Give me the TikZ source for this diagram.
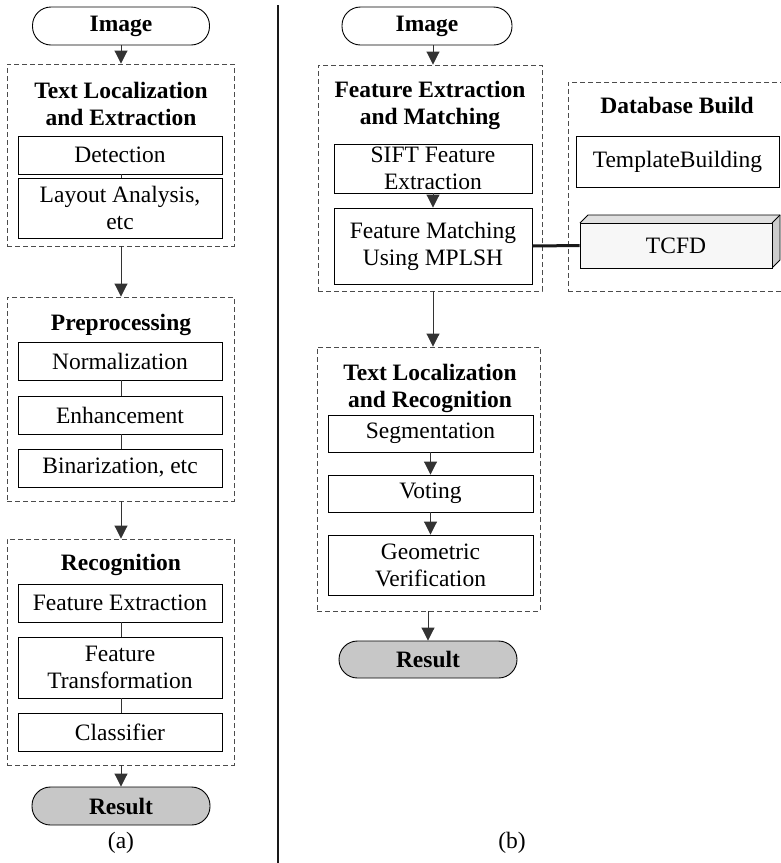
\documentclass[tikz,border=0pt]{standalone}
\usepackage{fontspec}
\setmainfont{Liberation Serif}
\usetikzlibrary{arrows.meta}
\begin{document}
\begin{tikzpicture}[x=1pt,y=-1pt,
  every node/.style={font=\fontsize{23.5}{27}\selectfont, inner sep=0pt},
  stepbox/.style={draw, line width=0.9pt, align=center},
  grp/.style={draw=black!70, line width=0.9pt, dash pattern=on 5pt off 3pt},
  term/.style={draw, line width=0.9pt, rounded corners=18.5pt, font=\fontsize{23.5}{27}\selectfont\bfseries},
  ttl/.style={align=center, font=\fontsize{23.5}{27}\selectfont\bfseries},
  arr/.style={draw=black!80, line width=0.9pt, -{Triangle[width=13pt,length=13pt]}},
  lnk/.style={draw=black!80, line width=0.9pt}
]
\useasboundingbox (0,0) rectangle (781,863);
% separator
\draw[line width=2pt, black!90] (278,5) coordinate (s1) -- (278,863) coordinate (s2);

% ---------------- (a) ----------------
\node[term, minimum width=177pt, minimum height=38pt] (imgA) at (121,26) {Image};
\node[grp, minimum width=227pt, minimum height=182pt] (g1) at (120.5,155) {};
\node[ttl] (t1) at (121,103.5) {Text Localization\\and Extraction};
\node[stepbox, minimum width=204pt, minimum height=38pt] (det) at (120,155) {Detection};
\node[stepbox, minimum width=204pt, minimum height=60pt] (lay) at (120,208) {Layout Analysis,\\etc};

\node[grp, minimum width=227pt, minimum height=204pt] (g2) at (120.5,399) {};
\node[ttl, anchor=base] (t2) at (121,330) {Preprocessing};
\node[stepbox, minimum width=204pt, minimum height=38pt] (norm) at (120,361) {Normalization};
\node[stepbox, minimum width=204pt, minimum height=38pt] (enh) at (120,415) {Enhancement};
\node[stepbox, minimum width=204pt, minimum height=38pt] (bin) at (120,468) {Binarization, etc};

\node[grp, minimum width=227pt, minimum height=226pt] (g3) at (120.5,652) {};
\node[ttl, anchor=base] (t3) at (121,570) {Recognition};
\node[stepbox, minimum width=204pt, minimum height=38pt] (fext) at (120,603) {Feature Extraction};
\node[stepbox, minimum width=204pt, minimum height=61pt] (ftr) at (120,667.5) {Feature\\Transformation};
\node[stepbox, minimum width=204pt, minimum height=38pt] (cls) at (120,732) {Classifier};

\node[term, fill=black!22, minimum width=178pt, minimum height=38pt] (resA) at (121,806) {Result};
\node (capA) at (121,843) {(a)};

\draw[arr] (imgA.south) -- (g1.north -| imgA.south);
\draw[lnk] (det.south -| imgA.south) -- (lay.north -| imgA.south);
\draw[arr] (g1.south -| imgA.south) -- (g2.north -| imgA.south);
\draw[lnk] (norm.south -| imgA.south) -- (enh.north -| imgA.south);
\draw[lnk] (enh.south -| imgA.south) -- (bin.north -| imgA.south);
\draw[arr] (g2.south -| imgA.south) -- (g3.north -| imgA.south);
\draw[lnk] (fext.south -| imgA.south) -- (ftr.north -| imgA.south);
\draw[lnk] (ftr.south -| imgA.south) -- (cls.north -| imgA.south);
\draw[arr] (g3.south -| imgA.south) -- (resA.north);

% ---------------- (b) ----------------
\node[term, minimum width=170pt, minimum height=38pt] (imgB) at (427,26) {Image};
\node[grp, minimum width=224pt, minimum height=226pt] (g4) at (430,178) {};
\node[ttl] (t4) at (430,105.5) {Feature Extraction\\and Matching};
\node[stepbox, minimum width=198pt, minimum height=49pt] (sift) at (433,168.5) {SIFT Feature\\Extraction};
\node[stepbox, minimum width=198pt, minimum height=76pt] (fm) at (433,246) {Feature Matching\\Using MPLSH};

\node[grp, minimum width=216pt, minimum height=209pt] (g6) at (676,186.5) {};
\node[ttl, anchor=base] (t6) at (677,113) {Database Build};
\node[stepbox, minimum width=203pt, minimum height=51pt] (tb) at (677.5,161.5) {TemplateBuilding};
% TCFD 3D box
\fill[black!12] (580,223) -- (588,215) -- (780,215) -- (772,223) -- cycle;
\fill[black!20] (772,223) -- (780,215) -- (780,260) -- (772,268) -- cycle;
\draw[line width=0.9pt] (580,223) -- (588,215) -- (780,215) -- (780,260) -- (772,268);
\draw[line width=0.9pt] (772,223) -- (780,215);
\node[stepbox, fill=black!3, minimum width=192pt, minimum height=45pt] (tcfd) at (676,245.5) {TCFD};

\draw[line width=3pt, black!90] (fm.east) -- (tcfd.west);

\node[grp, minimum width=223pt, minimum height=264pt] (g5) at (428.5,479) {};
\node[ttl] (t5) at (430,388) {Text Localization\\and Recognition};
\node[stepbox, minimum width=205pt, minimum height=37pt] (seg) at (430.5,433.5) {Segmentation};
\node[stepbox, minimum width=205pt, minimum height=37pt] (vot) at (430.5,493.5) {Voting};
\node[stepbox, minimum width=205pt, minimum height=60pt] (geo) at (430.5,565) {Geometric\\Verification};

\node[term, fill=black!22, minimum width=178pt, minimum height=37pt] (resB) at (428,659.5) {Result};
\node (capB) at (512,843) {(b)};

\draw[arr] (imgB.south -| sift.north) -- (g4.north -| sift.north);
\draw[arr] (sift.south) -- (fm.north);
\draw[arr] (g4.south -| sift.south) -- (g5.north -| sift.south);
\draw[arr] (seg.south) -- (vot.north);
\draw[arr] (vot.south) -- (geo.north);
\draw[arr] (g5.south -| resB.north) -- (resB.north);
\end{tikzpicture}
\end{document}
